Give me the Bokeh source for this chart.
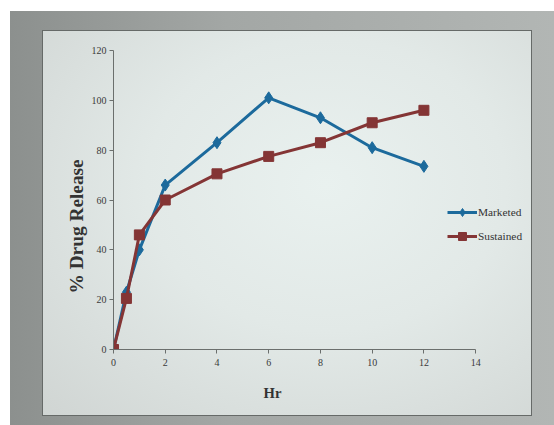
from bokeh.plotting import figure
from bokeh.models import Legend, LegendItem, FixedTicker, Title
from bokeh.layouts import column
from bokeh.embed import file_html
from bokeh.resources import INLINE

hours = [0, 0.5, 1, 2, 4, 6, 8, 10, 12]
marketed = [0, 23, 40, 66, 83, 101, 93, 81, 73.5]
sustained = [0, 20.5, 46, 60, 70.5, 77.5, 83, 91, 96]
x_ticks = [0, 2, 4, 6, 8, 10, 12, 14]
y_ticks = [0, 20, 40, 60, 80, 100, 120]

SERIF = "Liberation Serif"
BLUE = "#1c6a9c"
RED = "#843535"
TXT = "#333333"

p = figure(width=488, height=384, output_backend="svg", toolbar_location=None,
           x_range=(0, 15.85), y_range=(0, 120),
           min_border_left=70, min_border_right=8, min_border_top=19, min_border_bottom=66)
p.border_fill_alpha = 0
p.background_fill_alpha = 0
p.outline_line_color = None
p.grid.visible = False
p.styles = {
    "background": "radial-gradient(ellipse at 58% 40%, #e9f1ef 0%, #e2e9e7 45%, #d0d5d3 100%)",
    "outline": "1.5px solid #666a68",
}

for ax in (p.xaxis[0], p.yaxis[0]):
    ax.axis_line_color = "#6b6f6d"
    ax.major_tick_line_color = "#6b6f6d"
    ax.minor_tick_line_color = None
    ax.major_tick_in = 0
    ax.major_tick_out = 4
    ax.major_label_text_font = SERIF
    ax.major_label_text_font_size = "7.5pt"
    ax.major_label_text_color = "#3a3a3a"
p.xaxis.ticker = FixedTicker(ticks=x_ticks)
p.yaxis.ticker = FixedTicker(ticks=y_ticks)
p.xaxis.bounds = (0, 14)
p.xaxis.major_label_standoff = 5
p.yaxis.major_label_standoff = 3

p.add_layout(Title(text="Hr", align="left", offset=150, standoff=28,
                   text_font=SERIF, text_font_style="bold", text_font_size="11pt",
                   text_color=TXT), "below")
p.add_layout(Title(text="% Drug Release", align="left", offset=56, standoff=4,
                   text_font=SERIF, text_font_style="bold", text_font_size="14.5pt",
                   text_color=TXT), "left")

l1 = p.line(hours, marketed, line_color=BLUE, line_width=3)
m1 = p.scatter(hours, marketed, marker="diamond", size=12, fill_color=BLUE, line_color=BLUE)
l2 = p.line(hours, sustained, line_color=RED, line_width=3)
m2 = p.scatter(hours, sustained, marker="square", size=10, fill_color=RED, line_color=RED)

legend = Legend(items=[LegendItem(label="Marketed", renderers=[l1, m1]),
                       LegendItem(label="Sustained", renderers=[l2, m2])],
                location=(334, 103), background_fill_alpha=0, border_line_color=None,
                padding=0, margin=0, spacing=4, glyph_width=30, glyph_height=20,
                label_text_font=SERIF, label_text_font_size="8.5pt",
                label_text_color=TXT, label_standoff=1)
p.add_layout(legend)

page = column(p, styles={
    "background": "linear-gradient(90deg, #8c908e 0%, #a3a7a5 40%, #b2b6b4 100%)",
    "padding": "20px 23px 10px 33px",
    "margin-left": "10px",
    "margin-top": "11px",
})

open("out.html", "w").write(file_html(page, INLINE))
